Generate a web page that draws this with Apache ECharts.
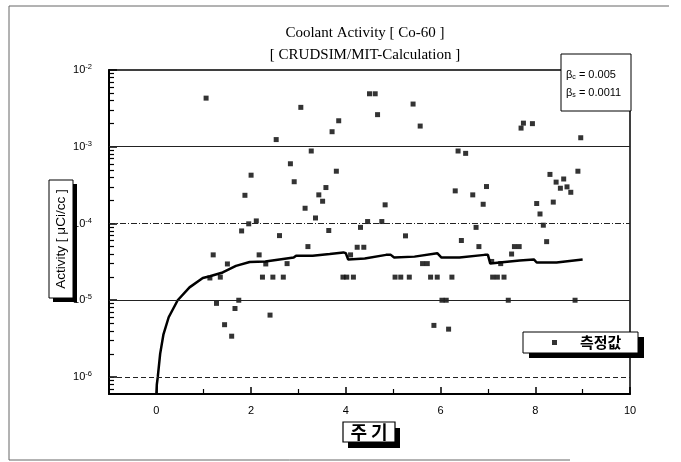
<!DOCTYPE html>
<html><head><meta charset="utf-8">
<script src="https://cdn.jsdelivr.net/npm/echarts@6/dist/echarts.min.js"></script>
<style>html,body{margin:0;padding:0;background:#fff}#c{width:681px;height:462px}</style>
</head><body><div id="c"></div>
<script>
// measured Co-60 coolant activity (cycle, µCi/cc)
const measuredX = [1.05,2.53,2.00,1.87,1.95,2.11,1.80,2.60,1.20,2.17,1.50,2.31,2.76,1.13,1.35,2.24,2.46,2.68,1.74,1.27,1.66,2.40,1.44,1.59,2.83,
  4.50,4.62,3.05,5.42,4.67,3.85,3.71,5.57,3.27,6.37,6.53,2.91,3.80,3.58,3.43,3.51,3.14,4.83,6.31,6.68,3.36,4.46,4.76,4.31,6.75,3.64,5.26,6.44,3.20,4.24,4.38,6.81,4.10,5.62,5.72,3.94,4.02,4.16,5.04,5.16,5.34,5.79,5.93,6.24,6.03,6.12,5.86,6.17,
  7.75,7.70,7.94,8.96,8.90,8.31,8.60,8.44,8.67,8.53,8.75,6.97,6.90,8.03,8.38,8.10,8.17,8.24,7.56,7.66,7.50,7.08,7.27,7.10,7.20,7.34,7.43,8.84];
const measuredY = [4.3e-3,1.24e-3,4.26e-4,2.33e-4,9.9e-5,1.08e-4,8.0e-5,6.95e-5,3.9e-5,3.9e-5,2.97e-5,2.97e-5,3.0e-5,1.95e-5,2.0e-5,2.0e-5,2.0e-5,2.0e-5,1.0e-5,9.1e-6,7.8e-6,6.4e-6,4.8e-6,3.4e-6,6.0e-4,
  4.9e-3,4.9e-3,3.26e-3,3.6e-3,2.62e-3,2.18e-3,1.57e-3,1.86e-3,8.8e-4,8.8e-4,8.2e-4,3.5e-4,4.8e-4,2.94e-4,2.36e-4,1.95e-4,1.58e-4,1.75e-4,2.66e-4,2.36e-4,1.18e-4,1.06e-4,1.06e-4,8.9e-5,8.9e-5,8.1e-5,6.9e-5,6.0e-5,5.0e-5,4.9e-5,4.9e-5,5.0e-5,3.9e-5,3.0e-5,3.0e-5,2.0e-5,2.0e-5,2.0e-5,2.0e-5,2.0e-5,2.0e-5,2.0e-5,2.0e-5,2.0e-5,1.0e-5,1.0e-5,4.7e-6,4.2e-6,
  2.03e-3,1.75e-3,2.0e-3,1.31e-3,4.8e-4,4.36e-4,3.8e-4,3.46e-4,3.0e-4,2.88e-4,2.55e-4,3.03e-4,1.78e-4,1.82e-4,1.9e-4,1.33e-4,9.5e-5,5.8e-5,5.0e-5,5.0e-5,4.0e-5,3.2e-5,3.0e-5,2.0e-5,2.0e-5,2.0e-5,1.0e-5,1.0e-5];
// CRUDSIM/MIT calculation
const calcX = [0,0.01,0.03,0.08,0.15,0.26,0.45,0.70,0.98,1.13,1.40,1.68,1.97,2.30,2.60,2.90,2.95,3.30,3.66,3.95,4.00,4.05,4.40,4.85,4.95,5.02,5.45,5.93,6.02,6.40,6.93,7.00,7.05,7.25,7.67,7.97,8.03,8.45,9.00];
const calcY = [6e-7,8e-7,1e-6,2e-6,3.6e-6,6e-6,1e-5,1.47e-5,1.95e-5,2.05e-5,2.3e-5,2.8e-5,3.15e-5,3.2e-5,3.4e-5,3.6e-5,3.8e-5,3.8e-5,4.0e-5,4.2e-5,4.1e-5,3.4e-5,3.5e-5,3.9e-5,3.9e-5,3.6e-5,3.7e-5,4.1e-5,3.6e-5,3.6e-5,3.9e-5,3.9e-5,3.0e-5,3.1e-5,3.3e-5,3.4e-5,3.1e-5,3.1e-5,3.4e-5];
const xTickLabels = [0,2,4,6,8,10];
const xMinorTicks = [1,3,5,7,9];
const yDecades = [1e-6,1e-5,1e-4,1e-3,1e-2];
const yMantissas = [2,3,4,5,6,7,8,9];
const gridDecades = [1e-6,1e-5,1e-4,1e-3];
const gridDash = [[5,3],'solid',[6,2,1,2],'solid'];

const X_MIN = -1, X_MAX = 10, Y_MIN = 6e-7, Y_MAX = 1e-2;
const yMinorTicks = [];
[1e-7,1e-6,1e-5,1e-4,1e-3].forEach(d => yMantissas.forEach(m => { const v = +(m*d).toPrecision(3); if (v > Y_MIN && v < Y_MAX) yMinorTicks.push(v); }));

const sans = 'Liberation Sans, Arial, sans-serif';
const chart = echarts.init(document.getElementById('c'), null, {renderer:'canvas'});
chart.setOption({
  animation: false,
  backgroundColor: '#fff',
  title: {
    text: 'Coolant Activity [ Co-60 ]\n[ CRUDSIM/MIT-Calculation ]',
    left: 365, top: 22, textAlign: 'center', padding: 0,
    textStyle: {fontFamily: 'Liberation Serif, Times New Roman, serif', fontSize: 15, fontWeight: 'normal', color: '#000', lineHeight: 22}
  },
  grid: {left: 109, right: 51, top: 70, bottom: 68, show: true, borderColor: '#000', borderWidth: 1.5, backgroundColor: 'transparent'},
  legend: {
    data: ['측정값'], left: 523, top: 332, orient: 'horizontal', z: 20,
    padding: [3, 10, 3, 29], itemWidth: 5, itemHeight: 5, icon: 'rect',
    textStyle: {fontFamily: 'Noto Sans CJK KR', fontSize: 15, fontWeight: 'bold', color: '#000', padding: [0,0,0,18]}
  },
  xAxis: [{
    type: 'value', min: X_MIN, max: X_MAX,
    axisLine: {show: true, onZero: false, lineStyle: {color: '#000', width: 2}},
    axisTick: {show: true, inside: true, length: 7, customValues: xTickLabels, lineStyle: {color: '#000', width: 1.5}},
    axisLabel: {customValues: xTickLabels, margin: 11, color: '#000', fontFamily: sans, fontSize: 11},
    splitLine: {show: false}
  }, {
    type: 'value', min: X_MIN, max: X_MAX, position: 'bottom',
    axisLine: {show: false, onZero: false},
    axisTick: {show: true, inside: true, length: 5, customValues: xMinorTicks, lineStyle: {color: '#000', width: 1.2}},
    axisLabel: {show: false}, splitLine: {show: false}
  }],
  yAxis: [{
    type: 'log', logBase: 10, min: Y_MIN, max: Y_MAX,
    axisLine: {show: true, onZero: false, lineStyle: {color: '#000', width: 2}},
    axisTick: {show: true, inside: true, length: 8, customValues: yDecades, lineStyle: {color: '#000', width: 1.5}},
    axisLabel: {
      customValues: yDecades, margin: 17, color: '#000',
      formatter: v => '{b|10}{s|' + Math.round(Math.log10(v)) + '}',
      rich: {b: {fontFamily: sans, fontSize: 11, color: '#000'}, s: {fontFamily: sans, fontSize: 7.5, color: '#000', verticalAlign: 'top', padding: [0,0,6,0]}}
    },
    splitLine: {show: false}
  }, {
    type: 'log', logBase: 10, min: Y_MIN, max: Y_MAX, position: 'left',
    axisLine: {show: false, onZero: false},
    axisTick: {show: true, inside: true, length: 5, customValues: yMinorTicks, lineStyle: {color: '#000', width: 1.2}},
    axisLabel: {show: false}, splitLine: {show: false}
  }],
  series: [{
    name: 'CRUDSIM', type: 'line', data: calcX.map((x, i) => [x, calcY[i]]),
    showSymbol: false, symbol: 'none', smooth: false, z: 3,
    lineStyle: {color: '#000', width: 2.5}
  }, {
    name: '측정값', type: 'scatter', data: measuredX.map((x, i) => [x, measuredY[i]]),
    symbol: 'rect', symbolSize: 5, z: 4,
    itemStyle: {color: '#000'},
    markLine: {
      silent: true, symbol: ['none', 'none'], label: {show: false}, animation: false,
      data: gridDecades.map((v, i) => [
        {coord: [X_MIN, v], lineStyle: {color: '#222', width: 1.2, type: gridDash[i]}},
        {coord: [X_MAX, v]}
      ])
    }
  }],
  graphic: [
    {type: 'polyline', silent: true, shape: {points: [[669, 6], [9, 6], [9, 460], [570, 460]]}, style: {stroke: '#666', lineWidth: 1, fill: null}},
    // y-axis title box
    {type: 'rect', silent: true, shape: {x: 53, y: 184, width: 24, height: 118}, style: {fill: '#000'}},
    {type: 'rect', silent: true, shape: {x: 49, y: 180, width: 24, height: 118}, style: {fill: '#fff', stroke: '#000', lineWidth: 1}},
    {type: 'text', silent: true, x: 61.5, y: 239, rotation: Math.PI / 2,
      style: {text: 'Activity [ μCi/cc ]', fontFamily: sans, fontSize: 13.5, fill: '#000', align: 'center', verticalAlign: 'middle'}},
    // x-axis title box
    {type: 'rect', silent: true, shape: {x: 348, y: 428, width: 52, height: 20}, style: {fill: '#000'}},
    {type: 'rect', silent: true, shape: {x: 343, y: 422, width: 52, height: 20}, style: {fill: '#fff', stroke: '#000', lineWidth: 1.2}},
    {type: 'text', silent: true, x: 369, y: 432,
      style: {text: '주 기', fontFamily: 'Noto Sans CJK KR', fontWeight: 'bold', fontSize: 18, fill: '#000', align: 'center', verticalAlign: 'middle'}},
    // legend box
    {type: 'rect', silent: true, z: 10, shape: {x: 529, y: 337, width: 115, height: 21}, style: {fill: '#000'}},
    {type: 'rect', silent: true, z: 10, shape: {x: 523, y: 332, width: 115, height: 21}, style: {fill: '#fff', stroke: '#000', lineWidth: 1}},
    // parameter box
    {type: 'rect', silent: true, z: 100, shape: {x: 561, y: 54, width: 70, height: 57}, style: {fill: '#fff', stroke: '#000', lineWidth: 1}},
    {type: 'text', silent: true, z: 101, x: 566, y: 75,
      style: {text: '{b|β}{s|c}{b| = 0.005}', verticalAlign: 'middle', rich: {b: {fontFamily: sans, fontSize: 11, fill: '#000'}, s: {fontFamily: sans, fontSize: 7, fill: '#000', verticalAlign: 'bottom', padding: [5,0,0,0]}}}},
    {type: 'text', silent: true, z: 101, x: 566, y: 93,
      style: {text: '{b|β}{s|s}{b| = 0.0011}', verticalAlign: 'middle', rich: {b: {fontFamily: sans, fontSize: 11, fill: '#000'}, s: {fontFamily: sans, fontSize: 7, fill: '#000', verticalAlign: 'bottom', padding: [5,0,0,0]}}}}
  ]
});
</script></body></html>
